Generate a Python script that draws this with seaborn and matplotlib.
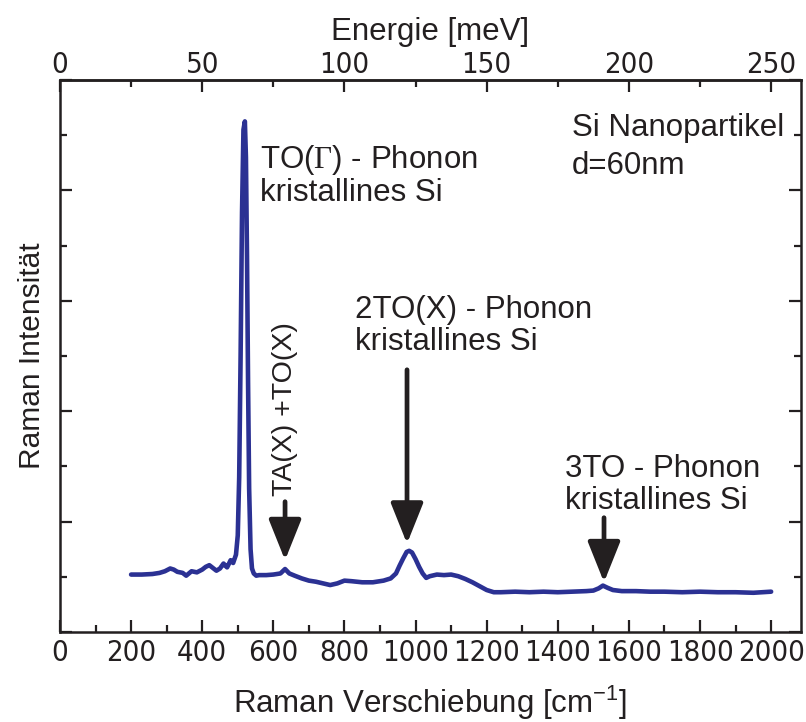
import numpy as np
import pandas as pd
import matplotlib
matplotlib.use("Agg")
import matplotlib.pyplot as plt
import seaborn as sns
from matplotlib.ticker import MultipleLocator
from matplotlib import font_manager

# ---- data ----
shift_cm = [200, 230, 260, 280, 295, 310, 320, 330, 345, 355, 370, 385, 400,
            410, 420, 430, 440, 450, 460, 465, 470, 480, 487, 495, 500, 504,
            508, 512, 516, 520, 523, 526, 529, 532, 536, 540, 545, 552, 560,
            580, 600, 620, 633, 645, 660, 680, 700, 720, 740, 760, 780, 800,
            820, 850, 880, 910, 930, 945, 955, 965, 975, 982, 990, 1000, 1010,
            1020, 1030, 1040, 1060, 1080, 1100, 1120, 1140, 1160, 1180, 1200,
            1220, 1240, 1280, 1320, 1360, 1400, 1440, 1480, 1500, 1515, 1527,
            1540, 1555, 1580, 1620, 1660, 1700, 1750, 1800, 1850, 1900, 1950,
            2000]
intensity = [1.04, 1.04, 1.05, 1.07, 1.10, 1.15, 1.13, 1.09, 1.07, 1.02, 1.10,
             1.08, 1.13, 1.18, 1.21, 1.16, 1.11, 1.15, 1.24, 1.20, 1.17, 1.30,
             1.25, 1.40, 1.75, 2.80, 5.00, 7.60, 9.10, 9.25, 8.60, 6.80, 4.50,
             2.60, 1.50, 1.15, 1.06, 1.02, 1.03, 1.03, 1.04, 1.06, 1.14, 1.06,
             1.02, 0.97, 0.93, 0.91, 0.88, 0.85, 0.88, 0.93, 0.92, 0.90, 0.90,
             0.93, 0.97, 1.06, 1.20, 1.33, 1.45, 1.47, 1.44, 1.32, 1.18, 1.06,
             0.98, 1.01, 1.04, 1.03, 1.04, 1.01, 0.96, 0.90, 0.83, 0.76, 0.72,
             0.72, 0.73, 0.72, 0.73, 0.72, 0.73, 0.74, 0.75, 0.79, 0.84, 0.80,
             0.76, 0.74, 0.74, 0.73, 0.73, 0.72, 0.73, 0.72, 0.72, 0.71, 0.73]

bottom_ticks = [0, 200, 400, 600, 800, 1000, 1200, 1400, 1600, 1800, 2000]
bottom_labels = ["0", "200", "400", "600", "800", "1000", "1200", "1400",
                 "1600", "1800", "2000"]
top_ticks = [0, 50, 100, 150, 200, 250]
top_labels = ["0", "50", "100", "150", "200", "250"]

xlabel = r"Raman Verschiebung [cm$^{\mathsf{-1}}$]"
toplabel = "Energie [meV]"
ylabel = "Raman Intensität"
cm_per_meV = 8.0

df = pd.DataFrame({"shift": shift_cm, "I": intensity})

sns.set_theme(style="ticks")
plt.rcParams["font.family"] = ["Liberation Sans", "DejaVu Sans"]
plt.rcParams["mathtext.fontset"] = "custom"
plt.rcParams["mathtext.rm"] = "Liberation Serif"
plt.rcParams["mathtext.sf"] = "Liberation Sans"
plt.rcParams["mathtext.it"] = "Liberation Sans:italic"

names = {f.name for f in font_manager.fontManager.ttflist}
if "Liberation Sans Narrow" in names:
    tick_font = dict(family="Liberation Sans Narrow")
elif "DejaVu Sans" in names:
    tick_font = dict(family="DejaVu Sans", stretch="condensed")
else:
    tick_font = dict(family="Liberation Sans")

tc = "#231F20"

fig = plt.figure(figsize=(8.06, 7.22), dpi=100)
ax = fig.add_axes([0.0744, 0.1247, 0.9194, 0.7645])

sns.lineplot(data=df, x="shift", y="I", ax=ax, color="#2B3193", linewidth=3.3)

ax.set_xlim(0, 2084)
ax.set_ylim(0, 10)
ax.xaxis.set_minor_locator(MultipleLocator(100))
ax.set_xticks(bottom_ticks)
ax.set_xticklabels(bottom_labels, fontsize=21, color=tc, **tick_font)
ax.yaxis.set_major_locator(MultipleLocator(2))
ax.yaxis.set_minor_locator(MultipleLocator(1))
ax.tick_params(axis="both", which="both", direction="in", width=1.6,
               colors=tc, right=True, left=True)
ax.tick_params(which="major", length=8.5)
ax.tick_params(which="minor", length=5)
ax.tick_params(axis="x", which="major", pad=5)
ax.tick_params(axis="y", which="both", labelleft=False)
for s in ax.spines.values():
    s.set_linewidth(1.8)
    s.set_color(tc)
    s.set_visible(True)

ax.set_xlabel(xlabel, fontsize=22.5, labelpad=12, color=tc)
ax.set_ylabel(ylabel, fontsize=21.5, labelpad=10, color=tc)

top = ax.secondary_xaxis("top", functions=(lambda x: x / cm_per_meV,
                                           lambda e: e * cm_per_meV))
top.xaxis.set_minor_locator(MultipleLocator(25))
top.set_xticks(top_ticks)
top.set_xticklabels(top_labels, fontsize=21, color=tc, **tick_font)
top.tick_params(axis="x", which="both", direction="in", width=1.6, colors=tc)
top.tick_params(which="major", length=8.5, pad=0.5)
top.tick_params(which="minor", length=5)
top.spines["top"].set_linewidth(1.8)
top.set_xlabel(toplabel, fontsize=22.5, labelpad=8, color=tc)

fs = 22.5
kw = dict(fontsize=fs, color=tc, va="baseline")
ax.text(1440, 8.99, "Si Nanopartikel", **kw)
ax.text(1440, 8.29, "d=60nm", **kw)
ax.text(563, 8.40, r"TO($\mathrm{\Gamma}$) - Phonon", **kw)
ax.text(563, 7.80, "kristallines Si", **kw)
ax.text(830, 5.68, "2TO(X) - Phonon", **kw)
ax.text(830, 5.10, "kristallines Si", **kw)
ax.text(1420, 2.81, "3TO - Phonon", **kw)
ax.text(1420, 2.23, "kristallines Si", **kw)
ax.text(652, 2.47, "TA(X) +TO(X)", fontsize=20.5, color=tc, rotation=90,
        rotation_mode="anchor", ha="left", va="baseline")

arrow_kw = dict(arrowstyle="-|>,head_length=1.25,head_width=0.5",
                mutation_scale=20, color=tc, lw=3.4, shrinkA=0, shrinkB=0)
for x0, y0, y1 in [(633, 2.36, 1.30), (976, 4.75, 1.60), (1530, 2.07, 0.90)]:
    ax.annotate("", xy=(x0, y1), xytext=(x0, y0), arrowprops=arrow_kw)

fig.savefig("out.png", dpi=100)
